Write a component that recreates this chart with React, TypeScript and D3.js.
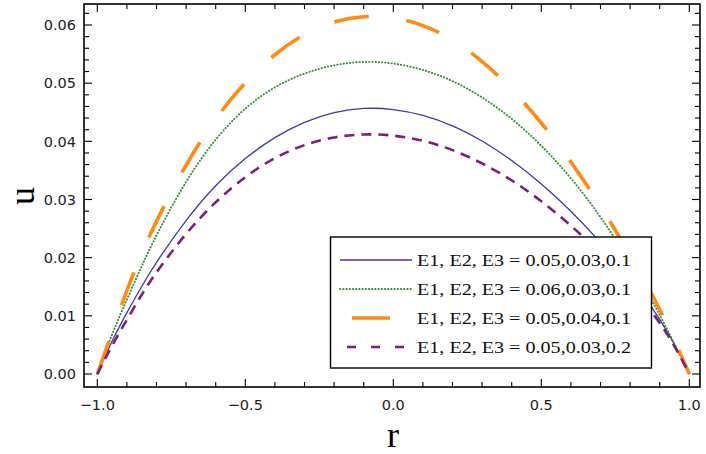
import React from "react";
import * as d3 from "d3";

const rValues = [-1, -0.95, -0.9, -0.85, -0.8, -0.7, -0.6, -0.5, -0.4, -0.3, -0.2, -0.1, 0, 0.1, 0.2, 0.3, 0.4, 0.5, 0.6, 0.7, 0.8, 0.85, 0.9, 0.95, 1];

const uBlue = [0, 0.0058, 0.0106, 0.0151, 0.0193, 0.0266, 0.0326, 0.0372, 0.0408, 0.0434, 0.0451, 0.0458, 0.0456, 0.0446, 0.0428, 0.0402, 0.0368, 0.0328, 0.0281, 0.0227, 0.0166, 0.0132, 0.0095, 0.0052, 0];
const uGreen = [0, 0.0070, 0.0128, 0.0186, 0.0240, 0.0334, 0.0406, 0.0459, 0.0495, 0.0518, 0.0532, 0.0538, 0.0535, 0.0524, 0.0505, 0.0477, 0.0440, 0.0394, 0.0338, 0.0272, 0.0192, 0.0148, 0.0102, 0.0052, 0];
const uOrange = [0, 0.0072, 0.0145, 0.0208, 0.0264, 0.0362, 0.0441, 0.0503, 0.0551, 0.0586, 0.0607, 0.0616, 0.0614, 0.0601, 0.0576, 0.0539, 0.0491, 0.0433, 0.0366, 0.0290, 0.0205, 0.0160, 0.0112, 0.0058, 0];
const uPurple = [0, 0.0050, 0.0093, 0.0137, 0.0176, 0.0243, 0.0297, 0.0340, 0.0373, 0.0395, 0.0408, 0.0413, 0.0411, 0.0402, 0.0386, 0.0363, 0.0334, 0.0298, 0.0256, 0.0208, 0.0153, 0.0122, 0.0089, 0.0049, 0];

const legendLabels = [
  "E1, E2, E3 = 0.05,0.03,0.1",
  "E1, E2, E3 = 0.06,0.03,0.1",
  "E1, E2, E3 = 0.05,0.04,0.1",
  "E1, E2, E3 = 0.05,0.03,0.2",
];

const xTickLabels = ["\u22121.0", "\u22120.5", "0.0", "0.5", "1.0"];
const xMajor = [-1, -0.5, 0, 0.5, 1];
const yMajor = [0, 0.01, 0.02, 0.03, 0.04, 0.05, 0.06];
const yTickLabels = ["0.00", "0.01", "0.02", "0.03", "0.04", "0.05", "0.06"];

const W = 706;
const H = 454;
const left = 84, right = 700, top = 4, bottom = 387;

const x = d3.scaleLinear().domain([-1, 1]).range([97.3, 689.3]);
const y = d3.scaleLinear().domain([0, 0.06]).range([374, 25]);

const styles = [
  { color: "#3b3ba6", width: 1.3, dash: "", cap: "butt" },
  { color: "#3a8f3a", width: 1.9, dash: "0.4,2.8", cap: "round" },
  { color: "#ff8a14", width: 3.6, dash: "35,38", cap: "butt" },
  { color: "#7b1f7b", width: 2.6, dash: "10,7", cap: "butt" },
];
const legendDash = ["", "0.4,2.8", "", "9,15"];
const legendX = [[340, 412], [340, 412], [352, 390], [347, 411]];

export default function App() {
  const series = [uBlue, uGreen, uOrange, uPurple];
  const line = d3
    .line<[number, number]>()
    .x((d) => x(d[0]))
    .y((d) => y(d[1]))
    .curve(d3.curveBasis);

  const xMinor = d3.range(-1, 1.0001, 0.1).map((v) => Math.round(v * 10) / 10);
  const yMinor = d3.range(0, 0.0631, 0.002).map((v) => Math.round(v * 1000) / 1000);

  const tickFont = "'DejaVu Sans', sans-serif";
  const serif = "'Liberation Serif', 'Times New Roman', serif";

  return (
    <svg width={W} height={H} style={{ position: "absolute", left: 0, top: 0, background: "#fff" }}>
      <rect x={0} y={0} width={W} height={H} fill="#fff" />
      <g>
        {series.map((s, i) => (
          <path
            key={i}
            d={line(rValues.map((r, j) => [r, s[j]] as [number, number])) || ""}
            fill="none"
            stroke={styles[i].color}
            strokeWidth={styles[i].width}
            strokeDasharray={styles[i].dash || undefined}
            strokeLinecap={styles[i].cap as any}
          />
        ))}
      </g>
      <rect x={left} y={top} width={right - left} height={bottom - top} fill="none" stroke="#000" strokeWidth={1.6} />
      {xMinor.map((v, i) => {
        const major = xMajor.some((m) => Math.abs(m - v) < 1e-6);
        const len = major ? 8 : 5;
        return (
          <g key={"xt" + i}>
            <line x1={x(v)} x2={x(v)} y1={bottom} y2={bottom - len} stroke="#000" strokeWidth={1.1} />
            <line x1={x(v)} x2={x(v)} y1={top} y2={top + len} stroke="#000" strokeWidth={1.1} />
          </g>
        );
      })}
      {yMinor.map((v, i) => {
        const major = yMajor.some((m) => Math.abs(m - v) < 1e-7);
        const len = major ? 8 : 5;
        return (
          <g key={"yt" + i}>
            <line x1={left} x2={left + len} y1={y(v)} y2={y(v)} stroke="#000" strokeWidth={1.1} />
            <line x1={right} x2={right - len} y1={y(v)} y2={y(v)} stroke="#000" strokeWidth={1.1} />
          </g>
        );
      })}
      {xMajor.map((v, i) => (
        <text key={"xl" + i} x={x(v)} y={410} textAnchor="middle" fontFamily={tickFont} fontSize={14.5} fill="#222">
          {xTickLabels[i]}
        </text>
      ))}
      {yMajor.map((v, i) => (
        <text key={"yl" + i} x={76} y={y(v)} dy="0.36em" textAnchor="end" fontFamily={tickFont} fontSize={14.5} fill="#222">
          {yTickLabels[i]}
        </text>
      ))}
      <text x={393} y={447} textAnchor="middle" fontFamily={serif} fontSize={36} fill="#000">r</text>
      <text transform="translate(34,196) rotate(-90)" textAnchor="middle" fontFamily={serif} fontSize={36} fill="#000">u</text>
      <rect x={330.5} y={237} width={321} height={131} fill="#fff" stroke="#000" strokeWidth={1.4} />
      {legendLabels.map((lab, i) => {
        const ly = 260 + i * 29;
        return (
          <g key={"lg" + i}>
            <line
              x1={legendX[i][0]}
              x2={legendX[i][1]}
              y1={ly}
              y2={ly}
              stroke={styles[i].color}
              strokeWidth={styles[i].width}
              strokeDasharray={legendDash[i] || undefined}
              strokeLinecap={styles[i].cap as any}
            />
            <text x={417} y={ly} dy="0.33em" fontFamily={serif} fontSize={17} fill="#111" textLength={214} lengthAdjust="spacingAndGlyphs">
              {lab}
            </text>
          </g>
        );
      })}
    </svg>
  );
}
